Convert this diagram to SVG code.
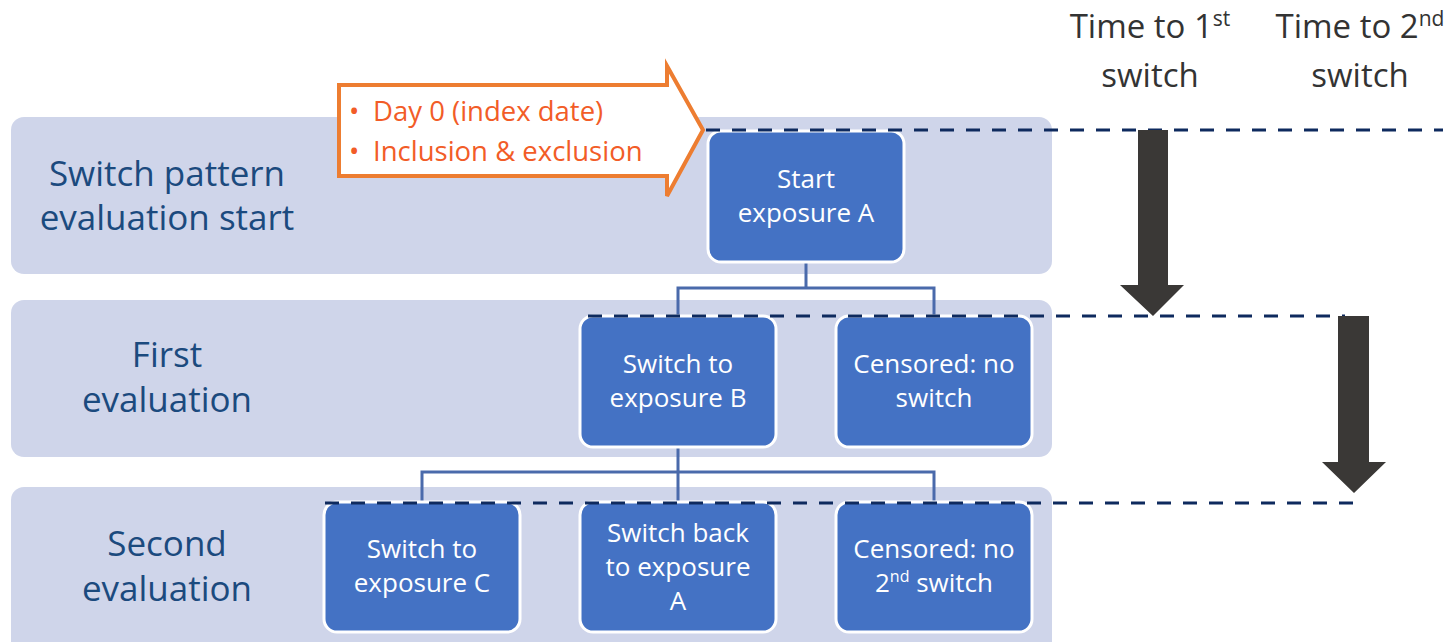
<svg xmlns="http://www.w3.org/2000/svg" width="1454" height="642" viewBox="0 0 1454 642">
<style>
.band{fill:#CFD5EA}
.node rect{fill:#4472C4;stroke:#fff;stroke-width:3}
.nt{font-family:"Open Sans","Liberation Sans",sans-serif;font-size:26px;fill:#fff;text-anchor:middle}
.lbl{font-family:"Open Sans","Liberation Sans",sans-serif;font-size:35px;fill:#1B4A7E;text-anchor:middle}
.hdr{font-family:"Open Sans","Liberation Sans",sans-serif;font-size:33px;fill:#333;text-anchor:middle}
.conn{fill:none;stroke:#4A6AAB;stroke-width:3}
.dash{stroke:#0E2A5E;stroke-width:3;stroke-dasharray:14 12;fill:none}
.bigarrow{fill:#3A3836}
.ot{font-family:"Open Sans","Liberation Sans",sans-serif;font-size:27.5px;fill:#F25C27}
</style>
<rect width="1454" height="642" fill="#fff"/>
<g id="bands">
<rect class="band" x="11" y="117" width="1041" height="157" rx="13"/>
<rect class="band" x="11" y="300" width="1041" height="157" rx="13"/>
<rect class="band" x="11" y="487" width="1041" height="170" rx="13"/>
</g>
<g id="labels">
<text class="lbl" x="167" y="186">Switch pattern</text>
<text class="lbl" x="167" y="230">evaluation start</text>
<text class="lbl" x="167" y="367">First</text>
<text class="lbl" x="167" y="412">evaluation</text>
<text class="lbl" x="167" y="556">Second</text>
<text class="lbl" x="167" y="601">evaluation</text>
</g>
<g id="headers">
<text class="hdr" x="1150" y="38">Time to 1<tspan font-size="21" dy="-12">st</tspan></text>
<text class="hdr" x="1150" y="87">switch</text>
<text class="hdr" x="1360" y="38">Time to 2<tspan font-size="21" dy="-12">nd</tspan></text>
<text class="hdr" x="1360" y="87">switch</text>
</g>
<g id="connectors">
<path class="conn" d="M806 262V288M678 316V288H934V316"/>
<path class="conn" d="M678 447V472M422 502V472H934V502M678 472V502"/>
</g>
<g id="node-start" class="node">
<rect x="708" y="131" width="196" height="131" rx="13"/>
<text class="nt" x="806" y="188">Start</text>
<text class="nt" x="806" y="222">exposure A</text>
</g>
<g id="node-switchB" class="node">
<rect x="580" y="316" width="196" height="131" rx="13"/>
<text class="nt" x="678" y="373">Switch to</text>
<text class="nt" x="678" y="407">exposure B</text>
</g>
<g id="node-censored1" class="node">
<rect x="836" y="316" width="196" height="131" rx="13"/>
<text class="nt" x="934" y="373">Censored: no</text>
<text class="nt" x="934" y="407">switch</text>
</g>
<g id="node-switchC" class="node">
<rect x="324" y="502" width="196" height="130" rx="13"/>
<text class="nt" x="422" y="558">Switch to</text>
<text class="nt" x="422" y="592">exposure C</text>
</g>
<g id="node-switchbackA" class="node">
<rect x="580" y="502" width="196" height="130" rx="13"/>
<text class="nt" x="678" y="542">Switch back</text>
<text class="nt" x="678" y="576">to exposure</text>
<text class="nt" x="678" y="610">A</text>
</g>
<g id="node-censored2" class="node">
<rect x="836" y="502" width="196" height="130" rx="13"/>
<text class="nt" x="934" y="558">Censored: no</text>
<text class="nt" x="934" y="592">2<tspan font-size="16" dy="-10">nd</tspan><tspan dy="10"> switch</tspan></text>
</g>
<g id="dashes">
<path class="dash" d="M706 130H1443"/>
<path class="dash" d="M588 316H1345"/>
<path class="dash" d="M325 503H1357"/>
</g>
<g id="time-arrows">
<path class="bigarrow" d="M1138 130H1168V285H1184L1153 316L1120 285H1138Z"/>
<path class="bigarrow" d="M1338 316H1369V462H1386L1354 493L1322 462H1338Z"/>
</g>
<g id="day0">
<path d="M339 85H667V66L703 130L667 196V176H339Z" fill="#fff" stroke="#ED7D31" stroke-width="4" stroke-linejoin="miter"/>
<text class="ot" x="349" y="121">•</text>
<text class="ot" x="373" y="121">Day 0 (index date)</text>
<text class="ot" x="349" y="161">•</text>
<text class="ot" x="373" y="161">Inclusion &amp; exclusion</text>
</g>
</svg>
